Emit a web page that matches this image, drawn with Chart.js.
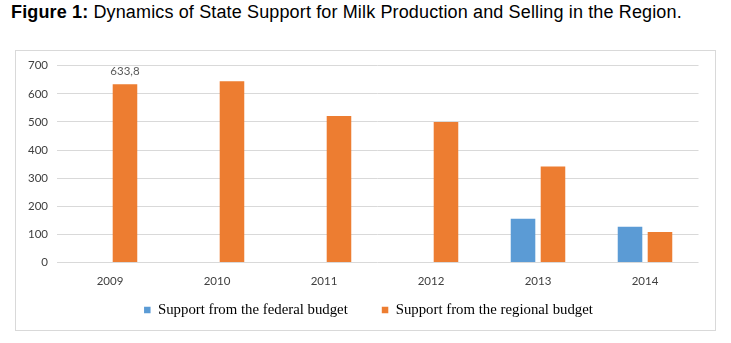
<!DOCTYPE html>
<html>
<head>
<meta charset="utf-8">
<script src="https://cdn.jsdelivr.net/npm/chart.js@4/dist/chart.umd.min.js"></script>
<style>
  html, body { margin: 0; padding: 0; background: #ffffff; }
  body { width: 731px; height: 343px; position: relative; overflow: hidden; }
  #title {
    position: absolute; left: 11px; top: 1.5px;
    font-family: "Liberation Sans", Arial, sans-serif; font-size: 18px; color: #000;
    letter-spacing: 0.14px; white-space: nowrap;
  }
  #frame {
    position: absolute; left: 15px; top: 50px; width: 699px; height: 279px;
    border: 1.5px solid #d9d9d9; box-sizing: content-box;
  }
  #wrap { position: absolute; left: 0; top: 0; width: 731px; height: 343px; }
</style>
</head>
<body>
<div id="title"><b>Figure 1:</b> Dynamics of State Support for Milk Production and Selling in the Region.</div>
<div id="frame"></div>
<div id="wrap"><canvas id="c" width="731" height="343"></canvas></div>
<script>
// Years on the category axis
const years = ['2009', '2010', '2011', '2012', '2013', '2014'];
// Support from the federal budget (no federal support before 2013)
const federal = [null, null, null, null, 155, 127];
// Support from the regional budget
const regional = [633.8, 645, 521, 500, 341, 108];
// Value axis ticks
const yTicks = [0, 100, 200, 300, 400, 500, 600, 700];
// Bars whose value is printed above them: [datasetIndex, index]
const labelled = [[1, 0]];

const tickFont = { family: 'Lato, "Open Sans", sans-serif', size: 11.5 };
const tickColor = '#404040';

const valueLabels = {
  id: 'valueLabels',
  afterDatasetsDraw(chart) {
    const ctx = chart.ctx;
    ctx.save();
    ctx.font = '11.5px Lato, "Open Sans", sans-serif';
    ctx.fillStyle = '#595959';
    ctx.textAlign = 'center';
    ctx.textBaseline = 'middle';
    labelled.forEach(([d, i]) => {
      const bar = chart.getDatasetMeta(d).data[i];
      const v = chart.data.datasets[d].data[i];
      ctx.fillText(String(v).replace('.', ','), bar.x, bar.y - 12.6);
    });
    ctx.restore();
  }
};

new Chart(document.getElementById('c'), {
  type: 'bar',
  data: {
    labels: years,
    datasets: [
      { label: 'Support from the federal budget', data: federal, backgroundColor: '#5b9bd5' },
      { label: 'Support from the regional budget', data: regional, backgroundColor: '#ed7d31' }
    ]
  },
  options: {
    responsive: false,
    animation: false,
    devicePixelRatio: 1,
    categoryPercentage: 0.56,
    barPercentage: 0.82,
    layout: { padding: { left: 38.5, right: 32.5, top: 65.7, bottom: 15.5 } },
    plugins: {
      title: { display: false },
      tooltip: { enabled: false },
      legend: {
        position: 'bottom',
        labels: {
          boxWidth: 6.5, boxHeight: 6.5, padding: 34,
          color: '#000',
          font: { family: '"Liberation Serif", "Times New Roman", serif', size: 14.8 }
        }
      }
    },
    scales: {
      x: {
        grid: { display: false, drawTicks: false },
        border: { display: false },
        // year labels sit below the baseline, outside the thin axis box
        ticks: { color: tickColor, mirror: true, padding: -26, font: tickFont },
        afterFit(s) { s.height = 6.3; }
      },
      y: {
        min: 0, max: 700,
        afterBuildTicks(s) { s.ticks = yTicks.map(v => ({ value: v })); },
        grid: { color: '#d9d9d9', drawTicks: false },
        border: { display: false },
        // right-aligned value labels drawn left of the narrow axis box
        ticks: { color: tickColor, mirror: true, crossAlign: 'far', padding: -28.5, font: tickFont },
        afterFit(s) { s.width = 18; }
      }
    }
  },
  plugins: [valueLabels]
});
</script>
</body>
</html>
